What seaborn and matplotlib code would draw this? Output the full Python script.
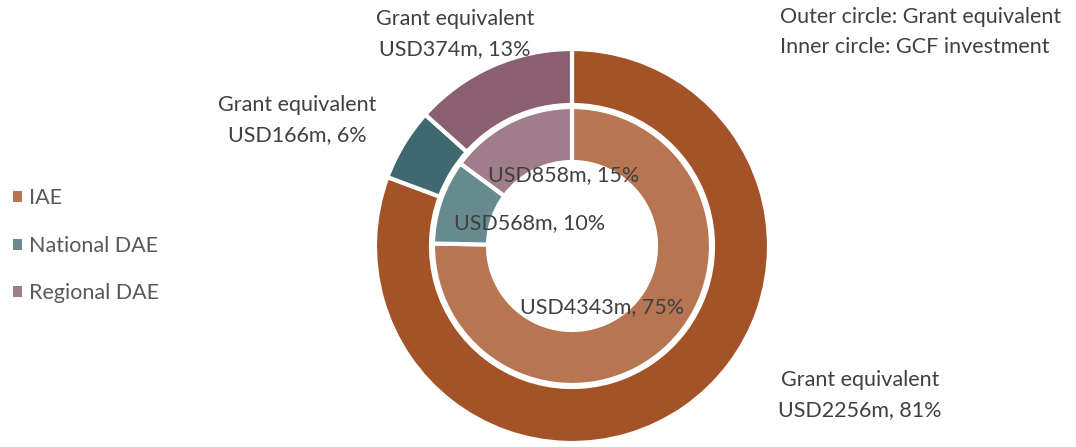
import matplotlib
matplotlib.use("Agg")
import matplotlib.pyplot as plt
import seaborn as sns
from matplotlib.patches import Patch

# data
categories = ["IAE", "National DAE", "Regional DAE"]
grant_equiv = [2256, 166, 374]      # outer circle, USD m
grant_pct = [81, 6, 13]
gcf_invest = [4343, 568, 858]       # inner circle, USD m
gcf_pct = [75, 10, 15]

outer_colors = ["#A45228", "#3F6870", "#8A5F70"]
inner_colors = ["#B87552", "#678A8F", "#A07D8A"]
TXT = "#404040"

sns.set_theme(style="white")
plt.rcParams['font.family'] = ['Lato', 'DejaVu Sans']

W, H = 1076, 447
fig = plt.figure(figsize=(W / 100, H / 100), dpi=100)
ax = fig.add_axes([0, 0, 1, 1])
ax.set_xlim(0, W)
ax.set_ylim(0, H)
ax.set_aspect('equal')
ax.axis('off')

cx, cy = 572, H - 246
r_out, r_mid, r_in = 197, 141, 84

ax.pie(grant_equiv, colors=outer_colors, radius=r_out, center=(cx, cy),
       startangle=90, counterclock=False,
       wedgeprops=dict(width=r_out - r_mid, edgecolor="white", linewidth=3))
ax.pie(gcf_invest, colors=inner_colors, radius=r_mid - 2, center=(cx, cy),
       startangle=90, counterclock=False,
       wedgeprops=dict(width=r_mid - 2 - r_in, edgecolor="white", linewidth=3))
ax.set_xlim(0, W)
ax.set_ylim(0, H)

fs = 15.5
ls = 1.6
# inner labels
inner_pos = [(602, 307), (530, 223), (564, 175)]
for (x, y), v, p in zip(inner_pos, gcf_invest, gcf_pct):
    ax.text(x, H - y, f"USD{v}m, {p}%", ha="center", va="center",
            fontsize=fs, color=TXT)

# outer labels
outer_pos = [(860, 395), (297, 120), (455, 34)]
for (x, y), v, p in zip(outer_pos, grant_equiv, grant_pct):
    ax.text(x, H - y, f"Grant equivalent\nUSD{v}m, {p}%", ha="center",
            va="center", fontsize=fs, color=TXT, linespacing=ls)

ax.text(780, H - 32, "Outer circle: Grant equivalent\nInner circle: GCF investment",
        ha="left", va="center", fontsize=fs, color=TXT, linespacing=ls)

handles = [Patch(facecolor=c, edgecolor="none") for c in inner_colors]
fig.legend(handles, categories, loc="center left", bbox_to_anchor=(0.0, 0.45),
           frameon=False, fontsize=fs, labelcolor="#595959", handlelength=0.4,
           handleheight=0.4, handletextpad=0.35, labelspacing=1.28,
           borderaxespad=0, borderpad=0.6)

fig.savefig("out.png", dpi=100)
